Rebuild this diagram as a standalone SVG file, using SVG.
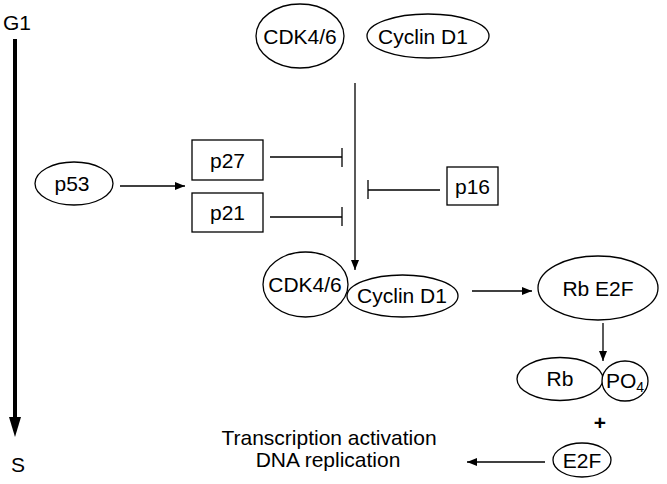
<svg xmlns="http://www.w3.org/2000/svg" width="667" height="484" viewBox="0 0 667 484">
<style>
text{font-family:"Liberation Sans",Arial,sans-serif;font-size:21px;fill:#000;text-anchor:middle}
.n{fill:#fff;stroke:#000;stroke-width:1.3}
.c{stroke:#000;stroke-width:1.3;fill:none}
</style>
<defs>
<marker id="ah" markerWidth="10" markerHeight="8" refX="10" refY="4" orient="auto" markerUnits="userSpaceOnUse">
<path d="M0,0 L10,4 L0,8 Z" fill="#000"/>
</marker>
</defs>
<rect width="667" height="484" fill="#fff"/>
<g id="phase">
<text x="17" y="30" font-size="19">G1</text>
<line x1="15" y1="39" x2="15" y2="418" stroke="#000" stroke-width="4"/>
<polygon points="9,417 21,417 15,437" fill="#000"/>
<text x="18" y="472" font-size="20">S</text>
</g>
<g id="connectors">
<line class="c" x1="355" y1="83" x2="355" y2="270" marker-end="url(#ah)"/>
<line class="c" x1="120" y1="186" x2="185" y2="186" marker-end="url(#ah)"/>
<line class="c" x1="270" y1="157" x2="342" y2="157"/>
<line class="c" x1="342" y1="148" x2="342" y2="167"/>
<line class="c" x1="270" y1="217" x2="342" y2="217"/>
<line class="c" x1="342" y1="207" x2="342" y2="226"/>
<line class="c" x1="440" y1="190" x2="368" y2="190"/>
<line class="c" x1="368" y1="180" x2="368" y2="199"/>
<line class="c" x1="472" y1="291" x2="532" y2="291" marker-end="url(#ah)"/>
<line class="c" x1="603" y1="323" x2="603" y2="361" marker-end="url(#ah)"/>
<line class="c" x1="545" y1="462" x2="467" y2="462" marker-end="url(#ah)"/>
</g>
<g id="cdk-top"><ellipse class="n" cx="300" cy="36" rx="44" ry="32"/><text x="300" y="44" font-size="22">CDK4/6</text></g>
<g id="cyclin-top"><ellipse class="n" cx="428" cy="36" rx="61" ry="22"/><text x="423" y="43.5">Cyclin D1</text></g>
<g id="p53"><ellipse class="n" cx="74" cy="183.5" rx="39" ry="21.5"/><text x="72" y="191">p53</text></g>
<g id="p27"><rect class="n" x="192" y="140" width="71" height="40"/><text x="227.5" y="168">p27</text></g>
<g id="p21"><rect class="n" x="192" y="193" width="71" height="39"/><text x="227.5" y="220">p21</text></g>
<g id="p16"><rect class="n" x="447" y="167" width="51" height="38"/><text x="472.5" y="194">p16</text></g>
<g id="complex">
<ellipse class="n" cx="305.5" cy="284.5" rx="42.5" ry="32.5"/><text x="305" y="291.5" font-size="22">CDK4/6</text>
<ellipse class="n" cx="402.5" cy="296" rx="55.5" ry="21"/><text x="402" y="303">Cyclin D1</text>
</g>
<g id="rbe2f"><ellipse class="n" cx="598" cy="288" rx="60" ry="32"/><text x="598" y="296" font-size="22">Rb E2F</text></g>
<g id="rbpo4">
<ellipse class="n" cx="560" cy="379" rx="43" ry="21.5"/><text x="560" y="386">Rb</text>
<ellipse class="n" cx="625" cy="381" rx="23" ry="20"/><text x="625" y="388">PO<tspan font-size="14" dy="4">4</tspan></text>
</g>
<g id="plus"><text x="600" y="430" font-size="22" font-weight="bold">+</text></g>
<g id="e2f"><ellipse class="n" cx="582" cy="460" rx="29" ry="17"/><text x="582" y="467.5">E2F</text></g>
<g id="outcome"><text x="329" y="445">Transcription activation</text><text x="328" y="467">DNA replication</text></g>
</svg>
